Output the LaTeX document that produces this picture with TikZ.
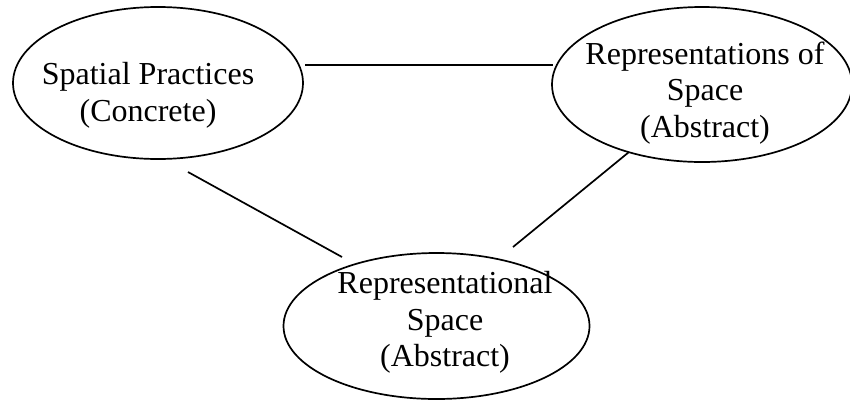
\documentclass[tikz,border=0pt]{standalone}
\usepackage{fontspec}
\setmainfont{Liberation Serif}
\usetikzlibrary{shapes.geometric}
\begin{document}
\begin{tikzpicture}[x=1pt,y=-1pt,
  oval/.style={draw, ellipse, line width=1.7pt, inner sep=0pt},
  lbl/.style={align=center, inner sep=0pt, font=\fontsize{32}{36.5}\selectfont},
  link/.style={line width=1.7pt}]
\useasboundingbox (0,0) rectangle (850,400);
% ellipses
\node[oval, minimum width=290pt, minimum height=152pt] (sp) at (158,83) {};
\node[oval, minimum width=300pt, minimum height=155pt] (rs) at (702,84.5) {};
\node[oval, minimum width=306pt, minimum height=146pt] (rl) at (436.5,326) {};
% texts
\node[lbl] (tsp) at (148,95.3) {Spatial Practices\\(Concrete)};
\node[lbl] (trs) at (705,92.8) {Representations of\\Space\\(Abstract)};
\node[lbl] (trl) at (445,322.3) {Representational\\Space\\(Abstract)};
% connector ends
\coordinate (a1) at (305,65);
\coordinate (a2) at (553,65);
\coordinate (b1) at (188,172);
\coordinate (b2) at (342,257);
\coordinate (c1) at (629,152);
\coordinate (c2) at (513,247);
\draw[link] (a1) -- (a2);
\draw[link] (b1) -- (b2);
\draw[link] (c1) -- (c2);
\end{tikzpicture}
\end{document}
